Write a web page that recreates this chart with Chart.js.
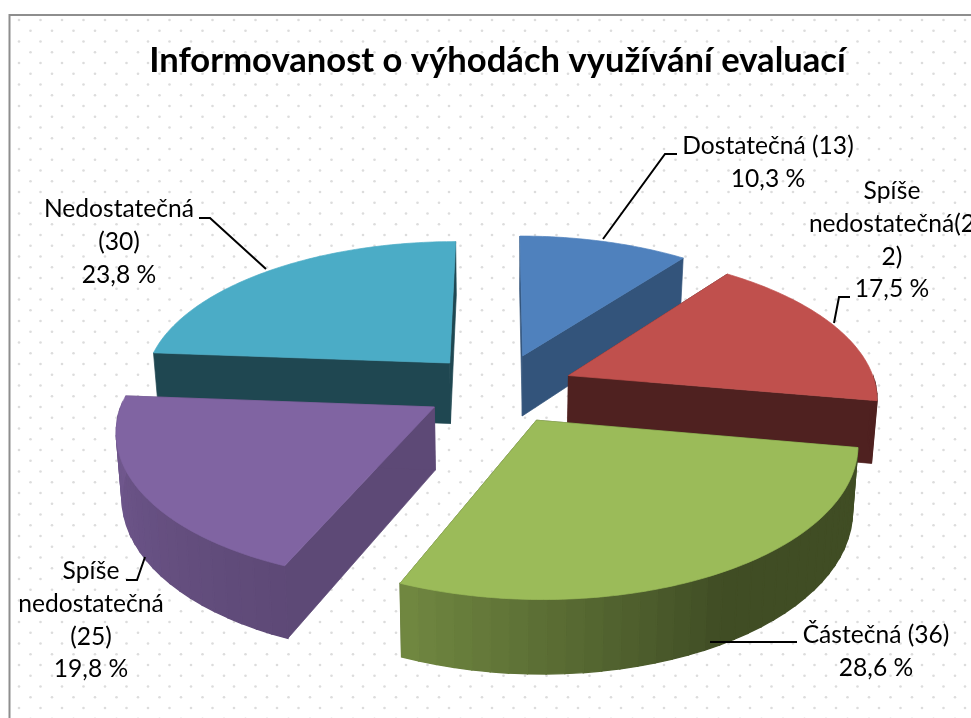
<!DOCTYPE html>
<html><head><meta charset="utf-8">
<style>html,body{margin:0;padding:0;background:#fff;overflow:hidden}canvas{display:block}</style>
<script src="https://cdn.jsdelivr.net/npm/chart.js@4/dist/chart.umd.min.js"></script>
</head><body><canvas id="c" width="971" height="718"></canvas>
<script>
const chartTitle = 'Informovanost o výhodách využívání evaluací';
const categories = ['Dostatečná','Spíše nedostatečná','Částečná','Spíše nedostatečná','Nedostatečná'];
const values = [13,22,36,25,30];
const percents = ['10,3 %','17,5 %','28,6 %','19,8 %','23,8 %'];
const labelLines = [
  ['Dostatečná (13)','10,3 %'],
  ['Spíše','nedostatečná(2','2)','17,5 %'],
  ['Částečná (36)','28,6 %'],
  ['Spíše','nedostatečná','(25)','19,8 %'],
  ['Nedostatečná','(30)','23,8 %']
];
const topColors = ['#4F81BD','#C0504D','#9BBB59','#8064A2','#4BACC6'];
const sideShade = [0.65,0.41,0.41,0.73,0.41];
const drawOrder = [0,4,1,3,2];
const labelCenters = [[768,146],[892,191],[876,635],[91,571],[119,209]];
const leaders = [
  [[603,239],[665,154],[677,154]],
  [[834,323],[839,297],[850,297]],
  [[710,642],[797,642]],
  [[145,557],[137,580],[126,580]],
  [[266,269],[210,218],[199,218]]
];
const wallLight = [[90,0.41],[150,0.41],[203,0.73],[270,0.88]];
const view = {shiftX:2, shiftY:-11.5, k:0.47, p:0.00045, depth:62, shrink:0.015, radius:308, offset:300};

function rgb(hex,f){const n=parseInt(hex.slice(1),16);
  return `rgb(${Math.round((n>>16&255)*f)},${Math.round((n>>8&255)*f)},${Math.round((n&255)*f)})`;}
function lightAt(a){for(let i=1;i<wallLight.length;i++){const [a0,v0]=wallLight[i-1],[a1,v1]=wallLight[i];
  if(a<=a1)return v0+(v1-v0)*(a-a0)/(a1-a0);}return wallLight[wallLight.length-1][1];}

const pie3d = {
  id:'pie3d',
  beforeDraw(chart){
    const ctx=chart.ctx;
    ctx.save();ctx.fillStyle='#fff';ctx.fillRect(0,0,971,718);
    ctx.fillStyle='#dcdcdc';
    for(let r=0;r<70;r++){const y=20+r*10.75;const xs=r%2?30.5:19;
      for(let x=xs;x<971;x+=21.5){ctx.beginPath();ctx.arc(x,y,1.3,0,7);ctx.fill();}}
    ctx.strokeStyle='#8e8e8e';ctx.lineWidth=2;ctx.beginPath();
    ctx.moveTo(9.5,720);ctx.lineTo(9.5,15);ctx.lineTo(975,15);ctx.stroke();
    ctx.restore();
  },
  beforeDatasetDraw(chart,args){
    const ctx=chart.ctx, arcs=args.meta.data;
    const P=(el,X,Y,z)=>{const s=1/(1+view.p*Y);
      return [el.x+view.shiftX+X*s*(1-z*view.shrink), el.y+view.shiftY-view.k*Y*s+z*view.depth*s];};
    ctx.save();
    for(const i of drawOrder){
      const el=arcs[i],R=el.outerRadius,off=el.options.offset/4;
      const t0=el.startAngle,t1=el.endAngle,m=(t0+t1)/2;
      const ox=Math.cos(m)*off,oy=-Math.sin(m)*off;
      const pt=(t,r,z)=>P(el,ox+Math.cos(t)*r,oy-Math.sin(t)*r,z);
      const poly=(pts,fill,w)=>{ctx.beginPath();pts.forEach((q,j)=>j?ctx.lineTo(q[0],q[1]):ctx.moveTo(q[0],q[1]));ctx.closePath();
        ctx.fillStyle=fill;ctx.strokeStyle=fill;ctx.lineWidth=w;ctx.fill();ctx.stroke();};
      const side=rgb(topColors[i],sideShade[i]);
      poly([pt(t0,0,0),pt(t0,R,0),pt(t0,R,1),pt(t0,0,1)],side,0.7);
      poly([pt(t1,0,0),pt(t1,R,0),pt(t1,R,1),pt(t1,0,1)],side,0.7);
      const n=Math.ceil((t1-t0)/(Math.PI/60));
      for(let j=0;j<n;j++){
        const a=t0+(t1-t0)*j/n,b=t0+(t1-t0)*(j+1)/n,mid=(a+b)/2;
        if(Math.sin(mid)<=0)continue;
        const deg=(mid*180/Math.PI+90+360)%360;
        poly([pt(a,R,0),pt(b,R,0),pt(b,R,1),pt(a,R,1)],rgb(topColors[i],lightAt(deg)),1.4);
      }
      const top=[pt(t0,0,0)];
      const nt=Math.ceil((t1-t0)/(Math.PI/180));
      for(let j=0;j<=nt;j++)top.push(pt(t0+(t1-t0)*j/nt,R,0));
      poly(top,topColors[i],0.7);
    }
    ctx.restore();
    return false;
  },
  afterDraw(chart){
    const ctx=chart.ctx;
    ctx.save();
    ctx.strokeStyle='#000';ctx.lineWidth=2;
    leaders.forEach(l=>{ctx.beginPath();l.forEach((q,j)=>j?ctx.lineTo(q[0],q[1]):ctx.moveTo(q[0],q[1]));ctx.stroke();});
    ctx.fillStyle='#000';ctx.textAlign='center';ctx.textBaseline='middle';
    ctx.font='24.6px Lato, sans-serif';
    labelLines.forEach((lines,i)=>lines.forEach((t,j)=>ctx.fillText(t,labelCenters[i][0],labelCenters[i][1]+j*32.8)));
    ctx.restore();
  }
};

new Chart(document.getElementById('c'),{
  type:'pie',
  data:{labels:categories,datasets:[{data:values,backgroundColor:topColors,borderWidth:0,offset:values.map(()=>view.offset),hoverOffset:0}]},
  plugins:[pie3d],
  options:{
    responsive:false,animation:false,events:[],radius:view.radius,
    layout:{padding:{left:24,right:0,top:40,bottom:0}},
    plugins:{
      legend:{display:false},tooltip:{enabled:false},
      title:{display:true,text:chartTitle,color:'#000',font:{family:'Lato, sans-serif',size:34.6,weight:'bold'},padding:{top:0,bottom:0}}
    }
  }
});
</script></body></html>
